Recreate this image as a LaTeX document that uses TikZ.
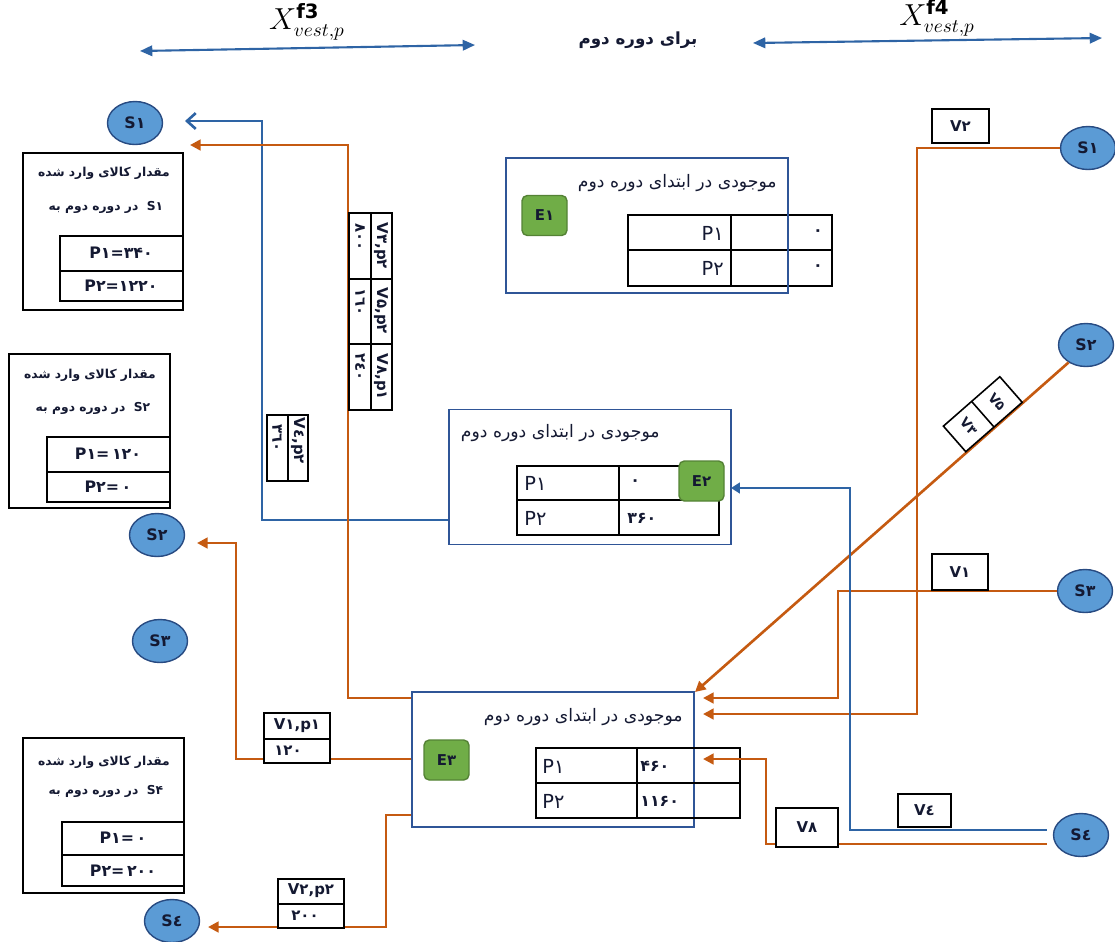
\documentclass[tikz,border=0pt]{standalone}
\usepackage{fontspec}
\setmainfont{DejaVu Sans}
\newfontfamily\fa[Script=Arabic]{DejaVu Sans}
\TeXXeTstate=1
\usetikzlibrary{arrows.meta,shapes.geometric,calc}
\newcommand\myfs[1]{\fontsize{#1}{#1}\selectfont}
\definecolor{bl}{RGB}{46,100,165}
\definecolor{og}{RGB}{197,90,17}
\definecolor{fr}{RGB}{47,85,151}
\definecolor{cf}{RGB}{91,155,213}
\definecolor{cb}{RGB}{40,75,130}
\definecolor{gf}{RGB}{112,173,71}
\definecolor{gb}{RGB}{84,130,53}
\definecolor{tx}{RGB}{20,25,50}
\tikzset{
  sc/.style={ellipse,draw=cb,fill=cf,line width=0.8pt,minimum width=1.1cm,minimum height=0.86cm,inner sep=0pt,font=\fa\bfseries\myfs{9},text=tx},
  gbox/.style={rectangle,rounded corners=3pt,draw=gb,fill=gf,line width=0.8pt,minimum width=0.9cm,minimum height=0.8cm,inner sep=0pt,font=\fa\bfseries\myfs{8.5},text=tx},
  frame/.style={rectangle,draw=fr,line width=0.9pt,inner sep=0pt,minimum width=5.64cm,minimum height=2.7cm},
  tl/.style={draw=black,line width=0.9pt},
  ol/.style={draw=og,line width=1.5pt},
  blu/.style={draw=bl,line width=1.5pt},
  otip/.style={-{Triangle[length=6pt,width=6pt]}},
  lbox/.style={rectangle,draw=black,line width=0.9pt,fill=white,inner sep=0pt,font=\fa\bfseries\myfs{8.5},text=tx},
  et/.style={font=\fa\myfs{9.8},text=tx,inner sep=0pt},
  bt/.style={font=\fa\bfseries\myfs{7},text=tx,inner sep=0pt},
  pt/.style={font=\fa\myfs{11},text=tx,inner sep=0pt},
  nt/.style={font=\fa\bfseries\myfs{9},text=tx,inner sep=0pt},
  vt/.style={font=\fa\bfseries\myfs{8.5},text=tx,inner sep=0pt},
  dvt/.style={font=\fa\bfseries\myfs{7.5},text=tx,inner sep=0pt},
}
\begin{document}
\begin{tikzpicture}[x=0.02cm,y=-0.02cm]
\useasboundingbox (0,0) rectangle (1115,941);
% ---------- top ----------
\coordinate (t1a) at (140,51); \coordinate (t1b) at (475,45);
\coordinate (t2a) at (753,43); \coordinate (t2b) at (1102,38);
\draw[blu,line width=1.2pt,{Triangle[length=7pt,width=6pt]}-{Triangle[length=7pt,width=6pt]}] (t1a) -- (t1b);
\draw[blu,line width=1.2pt,{Triangle[length=7pt,width=6pt]}-{Triangle[length=7pt,width=6pt]}] (t2a) -- (t2b);
\node[font=\myfs{16}] (x3) at (307,22) {$X^{\mathbf{f3}}_{vest,p}$};
\node[font=\myfs{16}] (x4) at (937,18) {$X^{\mathbf{f4}}_{vest,p}$};
\node[font=\fa\bfseries\myfs{9.5},text=tx] (title) at (638,40) {\beginR برای دوره دوم\endR};
% ---------- circles ----------
\node[sc] (S1L) at (135,123) {S۱};
\node[sc] (S2L) at (157,535) {S۲};
\node[sc] (S3L) at (160,641) {S۳};
\node[sc] (S4L) at (172,921) {S٤};
\node[sc] (S1R) at (1088,148) {S۱};
\node[sc] (S2R) at (1086,345) {S۲};
\node[sc] (S3R) at (1085,591) {S۳};
\node[sc] (S4R) at (1081,835) {S٤};
% ---------- left info boxes ----------
\draw[tl] (23,153) rectangle (183,310);
\node[bt] (b1a) at (104,173) {\beginR مقدار کالای وارد شده\endR};
\node[bt] (b1b) at (106,207) {\beginR در دوره دوم به\endR\ \ S۱};
\draw[tl] (60,236) rectangle (183,301); \draw[tl] (60,271) -- (183,271);
\node[nt] (b1c) at (121,253) {P۱=۳۴۰};
\node[nt] (b1d) at (121,286) {P۲=۱۲۲۰};

\draw[tl] (9,354) rectangle (170,508);
\node[bt] (b2a) at (90,375) {\beginR مقدار کالای وارد شده\endR};
\node[bt] (b2b) at (93,408) {\beginR در دوره دوم به\endR\ \ S۲};
\draw[tl] (47,437) rectangle (170,502); \draw[tl] (47,472) -- (170,472);
\node[nt] (b2c) at (108,454) {P۱=\,۱۲۰};
\node[nt] (b2d) at (108,487) {P۲=\,۰};

\draw[tl] (23,738) rectangle (184,893);
\node[bt] (b3a) at (104,762) {\beginR مقدار کالای وارد شده\endR};
\node[bt] (b3b) at (106,791) {\beginR در دوره دوم به\endR\ \ S۴};
\draw[tl] (62,822) rectangle (184,886); \draw[tl] (62,855) -- (184,855);
\node[nt] (b3c) at (123,838) {P۱=\,۰};
\node[nt] (b3d) at (123,871) {P۲=\,۲۰۰};
% ---------- E1 ----------
\draw[tl] (628,215) rectangle (832,286); \draw[tl] (731,215) -- (731,286); \draw[tl] (628,250) -- (832,250);
\node[frame] (E1) at (647,225.5) {};
\node[et,anchor=east] (E1t) at (777,183) {\beginR موجودی در ابتدای دوره دوم\endR};
\node[gbox] (E1g) at (544.5,215.5) {E۱};
\node[pt,anchor=east] (E1a) at (724,233) {P۱};
\node[pt,anchor=east] (E1b) at (724,268) {P۲};
\node[nt,anchor=east] (E1c) at (823,233) {۰};
\node[nt,anchor=east] (E1d) at (823,268) {۰};
% ---------- E2 ----------
\node[frame] (E2) at (590,477) {};
\draw[tl] (517,466) rectangle (719,535); \draw[tl] (619,466) -- (619,535); \draw[tl] (517,500) -- (719,500);
\node[et,anchor=east] (E2t) at (660,433) {\beginR موجودی در ابتدای دوره دوم\endR};
\node[pt,anchor=west] (E2a) at (524,483) {P۱};
\node[pt,anchor=west] (E2b) at (524,518) {P۲};
\node[nt,anchor=west] (E2c) at (630,483) {۰};
\node[nt,anchor=west] (E2d) at (627,518) {۳۶۰};
\node[gbox] (E2g) at (701.5,481) {E۲};
% ---------- E3 ----------
\node[frame] (E3) at (553,759.5) {};
\draw[tl] (536,748) rectangle (740,818); \draw[tl] (637,748) -- (637,818); \draw[tl] (536,783) -- (740,783);
\node[et,anchor=east] (E3t) at (683,717) {\beginR موجودی در ابتدای دوره دوم\endR};
\node[gbox] (E3g) at (446.5,760) {E۳};
\node[pt,anchor=west] (E3a) at (542,766) {P۱};
\node[pt,anchor=west] (E3b) at (542,801) {P۲};
\node[nt,anchor=west] (E3c) at (640,766) {۴۶۰};
\node[nt,anchor=west] (E3d) at (640,801) {۱۱۶۰};
% ---------- connector end points ----------
\coordinate (a1) at (185,121);
\coordinate (a2) at (190,145);
\coordinate (a3) at (197,543);
\coordinate (a4) at (208,927);
\coordinate (a5) at (703,714);
\coordinate (a6) at (695,692);
\coordinate (a7) at (703,698);
\coordinate (a8) at (731,488);
\coordinate (a9) at (703,759);
% ---------- connectors ----------
\draw[blu,-{Straight Barb[length=5pt,width=9pt]}] (E2.west |- 0,520) -- (262,520) -- (262,121) -- (a1);
\draw[ol,otip] (E3.west |- 0,698) -- (348,698) -- (348,145) -- (a2);
\draw[ol,otip] (E3.west |- 0,759) -- (236,759) -- (236,543) -- (a3);
\draw[ol,otip] (E3.west |- 0,815) -- (386,815) -- (386,927) -- (a4);
\draw[ol,otip] (S1R.west) -- (917,148) -- (917,714) -- (a5);
\draw[ol,otip] (S2R.225) -- (a6);
\draw[ol,otip] (S3R.west) -| (838,698) -- (a7);
\draw[blu,-{Triangle[length=5pt,width=6pt]}] ($(S4R.west)+(-6,-5)$) -- (850,830) -- (850,488) -- (a8);
\draw[ol,otip] ($(S4R.west)+(-6,9)$) -- (766,844) -- (766,759) -- (a9);
% ---------- right labels ----------
\node[lbox,minimum width=1.14cm,minimum height=0.68cm] (v2) at (960.5,126) {V۲};
\node[lbox,minimum width=1.12cm,minimum height=0.72cm] (v1) at (960,572) {V۱};
\node[lbox,minimum width=1.06cm,minimum height=0.66cm] (v4) at (924.5,810.5) {V٤};
\node[lbox,minimum width=1.24cm,minimum height=0.78cm] (v8) at (807,827.5) {V۸};
\begin{scope}[shift={(994,427)},rotate=41.2]
  \draw[tl,fill=white] (-37.5,0) rectangle (37.5,-34);
  \draw[tl] (0,0) -- (0,-34);
  \node[dvt,rotate=-48.8] (v3) at (-18.75,-17) {V۳};
  \node[dvt,rotate=-48.8] (v5) at (18.75,-17) {V۵};
\end{scope}
% ---------- left labels ----------
\draw[tl,fill=white] (264,713) rectangle (330,763); \draw[tl] (264,739) -- (330,739);
\node[vt] (l1a) at (297,726) {V۱,p۱};
\node[vt] (l1b) at (288,751) {۱۲۰};
\draw[tl,fill=white] (278,879) rectangle (344,928); \draw[tl] (278,904) -- (344,904);
\node[vt] (l2a) at (311,891) {V۲,p۲};
\node[vt] (l2b) at (305,916) {۲۰۰};
% vertical table on orange line
\draw[tl,fill=white] (349,213) rectangle (392,410);
\draw[tl] (371,213) -- (371,410); \draw[tl] (349,279) -- (392,279); \draw[tl] (349,344) -- (392,344);
\node[vt,rotate=-90] (r1a) at (381,246) {V۳,p۲};
\node[vt,rotate=-90] (r1b) at (360,237) {۸۰۰};
\node[vt,rotate=-90] (r2a) at (381,311) {V۵,p۲};
\node[vt,rotate=-90] (r2b) at (360,302) {۱٦۰};
\node[vt,rotate=-90] (r3a) at (381,377) {V۸,p۱};
\node[vt,rotate=-90] (r3b) at (360,367) {۲٤۰};
% small vertical table
\draw[tl,fill=white] (267,415) rectangle (308,481);
\draw[tl] (288,415) -- (288,481);
\node[vt,rotate=-90] (r4a) at (298,441) {V٤,p۲};
\node[vt,rotate=-90] (r4b) at (277,438) {۳٦۰};
\end{tikzpicture}
\end{document}
